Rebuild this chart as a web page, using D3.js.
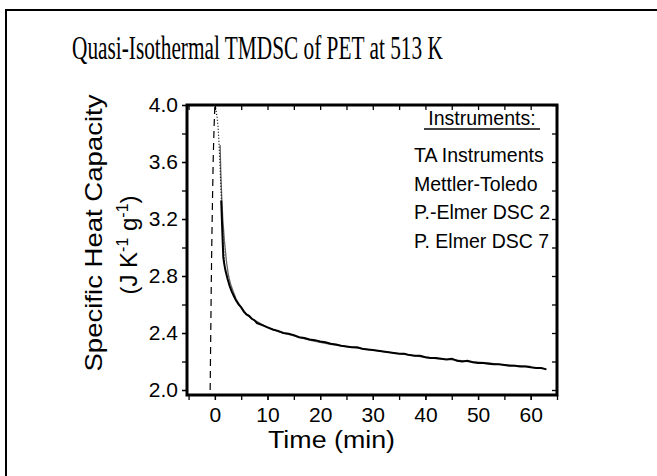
<!DOCTYPE html>
<html>
<head>
<meta charset="utf-8">
<script src="https://cdn.jsdelivr.net/npm/d3@7"></script>
<style>
body{margin:0;background:#fff;}
svg text{font-family:"Liberation Sans",Arial,sans-serif;fill:#000;}
</style>
</head>
<body>
<div id="graph"></div>
<script>
var width=657;
var height=476;

// instruments (legend order)
var instruments=['TA Instruments','Mettler-Toledo','P.-Elmer DSC 2','P. Elmer DSC 7'];
var xTicks=[0,10,20,30,40,50,60];
var yTicks=[2.0,2.4,2.8,3.2,3.6,4.0];

// time (min) and specific heat capacity (J/K/g)
var taTime=[-0.9,-0.8,-0.7,-0.6,-0.45,-0.3,-0.15,0];
var taCp=[2.0,2.35,2.7,3.0,3.35,3.65,3.85,4.0];

var mettlerTime=[0,0.2,0.4,0.6,0.8,1.0,1.2,1.5,1.8];
var mettlerCp=[4.0,3.97,3.92,3.85,3.72,3.55,3.35,3.1,2.9];

var pe2Time=[1.0,1.1,1.3,1.5,1.8,2.2,2.6,3,3.5,4,5,6,7,8,9,10,12,14,16,18,20,22,24,26,28,30,32,34,36,38,40,42,44,46,48,50,52,54,56,58,60];
var pe2Cp=[3.72,3.55,3.35,3.2,3.05,2.9,2.8,2.74,2.69,2.64,2.58,2.53,2.5,2.48,2.46,2.44,2.41,2.39,2.37,2.35,2.335,2.32,2.31,2.3,2.29,2.28,2.27,2.26,2.25,2.24,2.23,2.22,2.215,2.21,2.2,2.195,2.19,2.18,2.175,2.17,2.165];

var pe7Time=[1.2,1.4,1.6,1.8,2.0,2.4,2.8,3.2,3.6,4,4.5,5,5.5,6,6.5,7,7.5,8,9,10,11,12,13,14,15,16,17,18,19,20,21,22,23,24,25,26,27,28,29,30,31,32,33,34,35,36,37,38,39,40,41,42,43,44,45,46,47,48,49,50,51,52,53,54,55,56,57,58,59,60,61,62,63];
var pe7Cp=[3.33,3.12,2.93,2.88,2.84,2.78,2.73,2.69,2.66,2.63,2.6,2.58,2.55,2.53,2.52,2.5,2.49,2.47,2.455,2.44,2.425,2.415,2.4,2.395,2.385,2.37,2.365,2.355,2.35,2.34,2.335,2.325,2.32,2.31,2.305,2.3,2.3,2.29,2.285,2.28,2.275,2.27,2.265,2.26,2.255,2.255,2.245,2.24,2.24,2.23,2.225,2.225,2.22,2.215,2.22,2.205,2.2,2.205,2.195,2.19,2.19,2.185,2.18,2.18,2.175,2.17,2.17,2.165,2.165,2.16,2.155,2.155,2.145];

var svg=d3.select('#graph').append('svg')
	.attr('width',width).attr('height',height);

// outer frame (runs off right and bottom)
svg.append('rect')
	.attr('x',6).attr('y',10).attr('width',700).attr('height',500)
	.attr('fill','none').attr('stroke','#000').attr('stroke-width',2);

// condensed serif title: squeeze it with a scale instead of textLength
var title=svg.append('text')
	.attr('x',0).attr('y',0)
	.style('font-family','"Liberation Serif","DejaVu Serif",serif')
	.style('font-size','34px')
	.text('Quasi-Isothermal TMDSC of PET at 513 K');
var tw=title.node().getComputedTextLength();
title.attr('transform','translate(72,59) scale('+(371/tw)+',1)');

var pLeft=187,pRight=557,pTop=105,pBottom=395;
var x=d3.scaleLinear().domain([-5.3,65]).range([pLeft,pRight]);
var y=d3.scaleLinear().domain([1.965,4.0]).range([pBottom,pTop]);

function styleAxis(g){
	g.select('.domain').remove();
	g.selectAll('line').attr('stroke','#000').attr('stroke-width',1.3);
	g.selectAll('text').style('font-size','21px').style('font-family','"Liberation Sans",Arial,sans-serif');
}

// minor ticks
svg.append('g').attr('transform','translate(0,'+pBottom+')')
	.call(d3.axisBottom(x).tickValues(d3.range(-5,66,5)).tickSize(5).tickFormat(''))
	.call(styleAxis);
svg.append('g').attr('transform','translate(0,'+pTop+')')
	.call(d3.axisBottom(x).tickValues(d3.range(-5,66,5)).tickSize(5).tickFormat(''))
	.call(styleAxis);
svg.append('g').attr('transform','translate('+pLeft+',0)')
	.call(d3.axisLeft(y).tickValues(d3.range(2.0,4.01,0.2)).tickSize(5).tickFormat(''))
	.call(styleAxis);
svg.append('g').attr('transform','translate('+pRight+',0)')
	.call(d3.axisLeft(y).tickValues(d3.range(2.0,4.01,0.2)).tickSize(5).tickFormat(''))
	.call(styleAxis);

// labels
svg.append('g').attr('transform','translate(0,'+pBottom+')')
	.call(d3.axisBottom(x).tickValues(xTicks).tickSize(5).tickPadding(7).tickFormat(d3.format('d')))
	.call(styleAxis);
svg.append('g').attr('transform','translate('+pLeft+',0)')
	.call(d3.axisLeft(y).tickValues(yTicks).tickSize(5).tickPadding(4).tickFormat(d3.format('.1f')))
	.call(styleAxis);

// heavy frame of the plot
svg.append('rect')
	.attr('x',pLeft).attr('y',pTop).attr('width',pRight-pLeft).attr('height',pBottom-pTop)
	.attr('fill','none').attr('stroke','#000').attr('stroke-width',3);

var line=d3.line().x(function(d){return x(d[0]);}).y(function(d){return y(d[1]);});
function zip(a,b){return a.map(function(v,i){return [v,b[i]];});}

svg.append('path').datum(zip(pe2Time,pe2Cp)).attr('d',line)
	.attr('fill','none').attr('stroke','#666').attr('stroke-width',1.3);
svg.append('path').datum(zip(pe7Time,pe7Cp)).attr('d',line)
	.attr('fill','none').attr('stroke','#000').attr('stroke-width',2);
svg.append('path').datum(zip(mettlerTime,mettlerCp)).attr('d',line)
	.attr('fill','none').attr('stroke','#000').attr('stroke-width',1.2).attr('stroke-dasharray','1,2');
svg.append('path').datum(zip(taTime,taCp)).attr('d',line)
	.attr('fill','none').attr('stroke','#000').attr('stroke-width',1.2).attr('stroke-dasharray','7,5');

// legend
var lg=svg.append('g');
lg.append('text').attr('x',482).attr('y',125).attr('text-anchor','middle')
	.style('font-size','19.5px').text('Instruments:');
lg.append('line').attr('x1',424).attr('x2',540).attr('y1',129).attr('y2',129)
	.attr('stroke','#000').attr('stroke-width',1.5);
lg.selectAll('text.item').data(instruments).enter().append('text')
	.attr('class','item')
	.attr('x',414)
	.attr('y',function(d,i){return 162+i*28.5;})
	.style('font-size','19.5px')
	.text(function(d){return d;});

// axis titles
svg.append('text').attr('x',268).attr('y',448)
	.attr('textLength',127).attr('lengthAdjust','spacingAndGlyphs')
	.style('font-size','23px').text('Time  (min)');

svg.append('text').attr('transform','translate(102,233) rotate(-90)')
	.attr('text-anchor','middle').style('font-size','24px')
	.attr('textLength',277).attr('lengthAdjust','spacingAndGlyphs')
	.text('Specific Heat Capacity');
var yl=svg.append('text').attr('transform','translate(137,245) rotate(-90)')
	.attr('text-anchor','middle').style('font-size','24px');
yl.append('tspan').text('(J K');
yl.append('tspan').attr('dy',-9).style('font-size','16px').text('-1');
yl.append('tspan').attr('dy',9).text(' g');
yl.append('tspan').attr('dy',-9).style('font-size','16px').text('-1');
yl.append('tspan').attr('dy',9).text(')');
</script>
</body>
</html>
